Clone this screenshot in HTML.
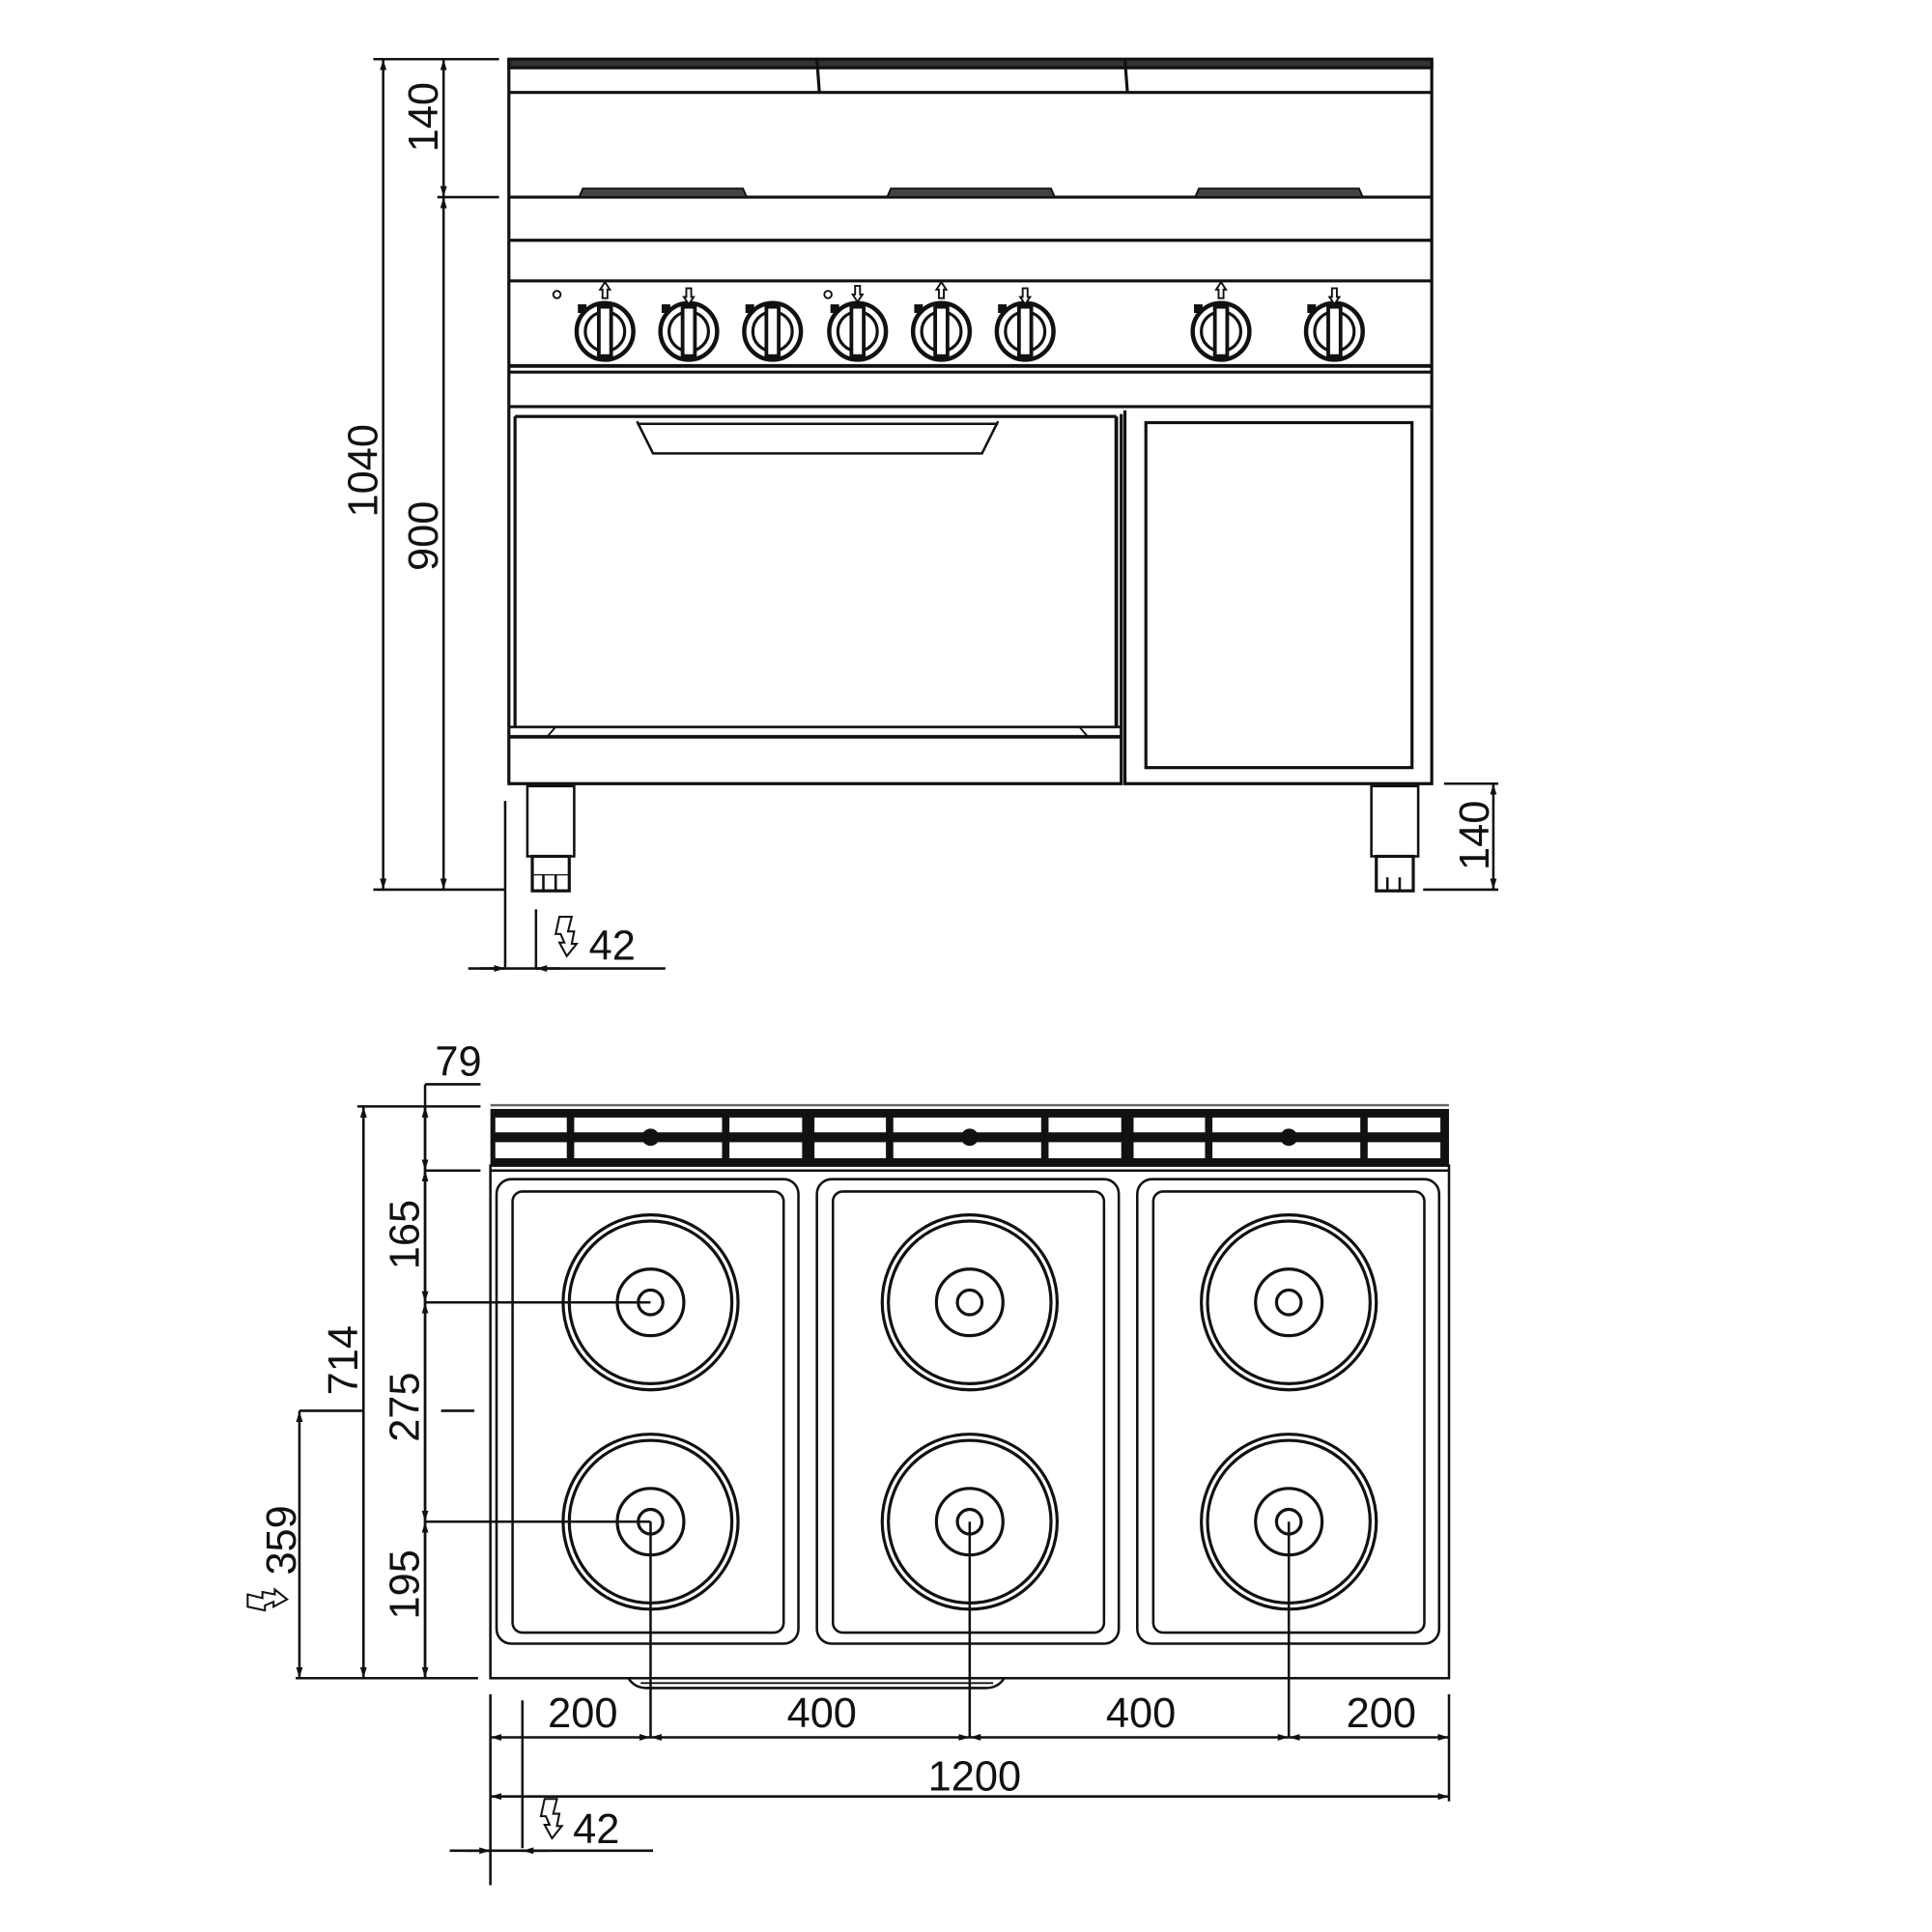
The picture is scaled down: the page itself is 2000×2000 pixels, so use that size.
<!DOCTYPE html>
<html><head><meta charset="utf-8"><style>
html,body{margin:0;padding:0;background:#fff;}
svg{display:block;}
text{font-family:"Liberation Sans",sans-serif;font-size:34px;fill:#111;}
</style></head><body>
<svg width="2000" height="2000" viewBox="0 0 1568 1568" xmlns="http://www.w3.org/2000/svg">
<defs>
<marker id="a" viewBox="0 0 10 10" refX="10" refY="5" markerWidth="9" markerHeight="9" orient="auto-start-reverse" markerUnits="userSpaceOnUse"><path d="M0,2 L10,5 L0,8 z" fill="#111"/></marker>
<g id="knob">
<circle cx="0" cy="0" r="23" fill="none" stroke="#111" stroke-width="3.5"/>
<circle cx="0" cy="0" r="16" fill="none" stroke="#111" stroke-width="2.5"/>
<rect x="-5" y="-20" width="10" height="40" fill="#fff" stroke="#111" stroke-width="3"/>
<rect x="-22" y="-22" width="7" height="7" fill="#111"/>
</g>
<g id="up"><path d="M0,-9 L-4,-3 L-2,-3 L-2,4 L2,4 L2,-3 L4,-3 Z" fill="#fff" stroke="#111" stroke-width="1.5"/></g>
<g id="dn"><path d="M0,9 L-4,3 L-2,3 L-2,-4 L2,-4 L2,3 L4,3 Z" fill="#fff" stroke="#111" stroke-width="1.5"/></g>
<g id="burner">
<circle r="71" fill="none" stroke="#111" stroke-width="2.5"/>
<circle r="66" fill="none" stroke="#111" stroke-width="2.5"/>
<circle r="27" fill="none" stroke="#111" stroke-width="2.5"/>
<circle r="10" fill="none" stroke="#111" stroke-width="2.5"/>
</g>
<g id="bolt"><path d="M-4,-14 L6,-14 L3,-2 L8,-2 L6,8 L10,8 L2,18 L-4,7 L0,7 L-3,0 L-7,0 Z" fill="#fff" stroke="#111" stroke-width="1.6"/></g>
</defs>

<g stroke="#111" fill="none" stroke-width="2.5">
<rect x="413" y="48" width="749" height="7" fill="#333"/>
<line x1="413" y1="75" x2="1162" y2="75"/>
<line x1="413" y1="48" x2="413" y2="330"/>
<line x1="1162" y1="48" x2="1162" y2="333"/>
<line x1="663" y1="48" x2="665" y2="75"/>
<line x1="913" y1="48" x2="915" y2="75"/>
<line x1="413" y1="160" x2="1162" y2="160"/>
<path d="M470,160 L473,153 L603,153 L606,160 Z M720,160 L723,153 L853,153 L856,160 Z M970,160 L973,153 L1103,153 L1106,160 Z" fill="#444" stroke-width="1.5"/>
<line x1="413" y1="195" x2="1162" y2="195"/>
<line x1="413" y1="228" x2="1162" y2="228"/>
<line x1="413" y1="297" x2="1162" y2="297" stroke-width="3"/>
<line x1="413" y1="302" x2="1162" y2="302"/>
<line x1="413" y1="330" x2="1162" y2="330"/>
<circle cx="452" cy="239" r="3" stroke-width="1.5"/>
<circle cx="672" cy="239" r="3" stroke-width="1.5"/>
</g>
<g>
<use href="#knob" x="491" y="269"/><use href="#up" x="491" y="238"/>
<use href="#knob" x="559" y="269"/><use href="#dn" x="559" y="238"/>
<use href="#knob" x="627" y="269"/>
<use href="#knob" x="696" y="269"/><use href="#dn" x="696" y="236"/>
<use href="#knob" x="764" y="269"/><use href="#up" x="764" y="238"/>
<use href="#knob" x="832" y="269"/><use href="#dn" x="832" y="238"/>
<use href="#knob" x="991" y="269"/><use href="#up" x="991" y="238"/>
<use href="#knob" x="1083" y="269"/><use href="#dn" x="1083" y="238"/>
</g>
<g stroke="#111" fill="none" stroke-width="2.5">
<path d="M413,330 L413,636 L910,636 L910,336"/>
<line x1="418" y1="338" x2="418" y2="590"/>
<line x1="906" y1="338" x2="906" y2="590" stroke-width="3"/>
<line x1="418" y1="338" x2="906" y2="338"/>
<path d="M517,342 L530,368 L797,368 L810,342" stroke-width="2"/>
<line x1="517" y1="344" x2="810" y2="344" stroke-width="2"/>
<line x1="413" y1="590" x2="910" y2="590" stroke-width="2"/>
<line x1="413" y1="598" x2="910" y2="598" stroke-width="3"/>
<path d="M444,598 L451,590 M876,590 L883,598" stroke-width="1.5"/>
<path d="M913,333 L913,636 L1162,636 L1162,333"/>
<rect x="930" y="343" width="216" height="280" stroke-width="2.5"/>
<rect x="428" y="638" width="38" height="57" stroke-width="2"/>
<rect x="432" y="695" width="30" height="28" stroke-width="2.5"/>
<line x1="441" y1="710" x2="441" y2="723" stroke-width="2"/><line x1="451" y1="710" x2="451" y2="723" stroke-width="2"/>
<line x1="432" y1="710" x2="462" y2="710" stroke-width="1"/>
<rect x="1113" y="638" width="38" height="57" stroke-width="2"/>
<rect x="1117" y="695" width="30" height="28" stroke-width="2.5"/>
<line x1="1126" y1="712" x2="1126" y2="723" stroke-width="2"/><line x1="1136" y1="712" x2="1136" y2="723" stroke-width="2"/>

<g stroke-width="2">
<line x1="303" y1="48" x2="405" y2="48"/>
<line x1="355" y1="160" x2="405" y2="160"/>
<line x1="303" y1="722" x2="410" y2="722"/>
<line x1="311" y1="48" x2="311" y2="722" marker-start="url(#a)" marker-end="url(#a)"/>
<line x1="360" y1="48" x2="360" y2="160" marker-start="url(#a)" marker-end="url(#a)"/>
<line x1="360" y1="160" x2="360" y2="722" marker-start="url(#a)" marker-end="url(#a)"/>
<line x1="1172" y1="636" x2="1216" y2="636"/>
<line x1="1155" y1="722" x2="1216" y2="722"/>
<line x1="1212" y1="636" x2="1212" y2="722" marker-start="url(#a)" marker-end="url(#a)"/>
<line x1="410" y1="650" x2="410" y2="786"/>
<line x1="435" y1="738" x2="435" y2="786"/>
<line x1="380" y1="786" x2="540" y2="786"/>
<line x1="390" y1="786" x2="410" y2="786" marker-end="url(#a)"/>
<line x1="455" y1="786" x2="435" y2="786" marker-end="url(#a)"/>
</g>
</g>
<use href="#bolt" x="458" y="758"/>
<text x="478" y="779">42</text>
<text transform="translate(355,95) rotate(-90)" text-anchor="middle">140</text>
<text transform="translate(355,435) rotate(-90)" text-anchor="middle">900</text>
<text transform="translate(306,382) rotate(-90)" text-anchor="middle">1040</text>
<text transform="translate(1208,678) rotate(-90)" text-anchor="middle">140</text>

<g>
<rect x="398" y="900" width="778" height="46" fill="#111"/>
<line x1="398" y1="897" x2="1176" y2="897" stroke="#666" stroke-width="2"/>
<g fill="#fff">
<rect x="402" y="907" width="58" height="12"/><rect x="466" y="907" width="120" height="12"/><rect x="592" y="907" width="59" height="12"/>
<rect x="402" y="927" width="58" height="13"/><rect x="466" y="927" width="120" height="13"/><rect x="592" y="927" width="59" height="13"/>
<rect x="661" y="907" width="58" height="12"/><rect x="725" y="907" width="120" height="12"/><rect x="851" y="907" width="59" height="12"/>
<rect x="661" y="927" width="58" height="13"/><rect x="725" y="927" width="120" height="13"/><rect x="851" y="927" width="59" height="13"/>
<rect x="920" y="907" width="58" height="12"/><rect x="984" y="907" width="120" height="12"/><rect x="1110" y="907" width="59" height="12"/>
<rect x="920" y="927" width="58" height="13"/><rect x="984" y="927" width="120" height="13"/><rect x="1110" y="927" width="59" height="13"/>
</g>
<circle cx="528" cy="923" r="7" fill="#111"/><circle cx="787" cy="923" r="7" fill="#111"/><circle cx="1046" cy="923" r="7" fill="#111"/>
</g>
<g stroke="#111" fill="none" stroke-width="2">
<line x1="398" y1="950" x2="1176" y2="950"/>
<rect x="398" y="946" width="778" height="416"/>
<rect x="403" y="957" width="245" height="377" rx="12"/>
<rect x="416" y="967" width="220" height="358" rx="8"/>
<rect x="663" y="957" width="245" height="377" rx="12"/>
<rect x="676" y="967" width="220" height="358" rx="8"/>
<rect x="923" y="957" width="245" height="377" rx="12"/>
<rect x="936" y="967" width="220" height="358" rx="8"/>
<path d="M510,1362 Q515,1370 525,1370 L800,1370 Q810,1370 815,1362" />
<line x1="520" y1="1366" x2="806" y2="1366" stroke-width="1.5"/>
</g>
<use href="#burner" x="528" y="1057"/><use href="#burner" x="787" y="1057"/><use href="#burner" x="1046" y="1057"/>
<use href="#burner" x="528" y="1235"/><use href="#burner" x="787" y="1235"/><use href="#burner" x="1046" y="1235"/>

<g stroke="#111" fill="none" stroke-width="2">
<line x1="345" y1="880" x2="390" y2="880"/>
<line x1="345" y1="880" x2="345" y2="1362"/>
<line x1="290" y1="898" x2="390" y2="898"/>
<line x1="345" y1="950" x2="390" y2="950"/>
<line x1="240" y1="1362" x2="388" y2="1362"/>
<line x1="295" y1="898" x2="295" y2="1362" marker-start="url(#a)" marker-end="url(#a)"/>
<line x1="345" y1="898" x2="345" y2="950" marker-start="url(#a)" marker-end="url(#a)"/>
<line x1="345" y1="950" x2="345" y2="1057" marker-start="url(#a)" marker-end="url(#a)"/>
<line x1="345" y1="1057" x2="345" y2="1235" marker-start="url(#a)" marker-end="url(#a)"/>
<line x1="345" y1="1235" x2="345" y2="1362" marker-start="url(#a)" marker-end="url(#a)"/>
<line x1="345" y1="1057" x2="528" y2="1057"/>
<line x1="345" y1="1235" x2="528" y2="1235"/>
<line x1="243" y1="1145" x2="295" y2="1145"/>
<line x1="358" y1="1145" x2="385" y2="1145"/>
<line x1="243" y1="1145" x2="243" y2="1362" marker-start="url(#a)" marker-end="url(#a)"/>
<line x1="398" y1="1375" x2="398" y2="1530"/>
<line x1="424" y1="1380" x2="424" y2="1500"/>
<line x1="1176" y1="1375" x2="1176" y2="1462"/>
<line x1="528" y1="1235" x2="528" y2="1410"/>
<line x1="787" y1="1235" x2="787" y2="1410"/>
<line x1="1046" y1="1235" x2="1046" y2="1410"/>
<line x1="398" y1="1410" x2="528" y2="1410" marker-start="url(#a)" marker-end="url(#a)"/>
<line x1="528" y1="1410" x2="787" y2="1410" marker-start="url(#a)" marker-end="url(#a)"/>
<line x1="787" y1="1410" x2="1046" y2="1410" marker-start="url(#a)" marker-end="url(#a)"/>
<line x1="1046" y1="1410" x2="1176" y2="1410" marker-start="url(#a)" marker-end="url(#a)"/>
<line x1="398" y1="1458" x2="1176" y2="1458" marker-start="url(#a)" marker-end="url(#a)"/>
<line x1="365" y1="1502" x2="530" y2="1502"/>
<line x1="378" y1="1502" x2="398" y2="1502" marker-end="url(#a)"/>
<line x1="444" y1="1502" x2="424" y2="1502" marker-end="url(#a)"/>
</g>
<use href="#bolt" x="446" y="1474"/>
<use href="#bolt" transform="translate(215,1300) rotate(-90)"/>
<text x="372" y="873" text-anchor="middle">79</text>
<text transform="translate(340,1002) rotate(-90)" text-anchor="middle">165</text>
<text transform="translate(340,1142) rotate(-90)" text-anchor="middle">275</text>
<text transform="translate(340,1286) rotate(-90)" text-anchor="middle">195</text>
<text transform="translate(290,1104) rotate(-90)" text-anchor="middle">714</text>
<text transform="translate(240,1250) rotate(-90)" text-anchor="middle">359</text>
<text x="473" y="1402" text-anchor="middle">200</text>
<text x="667" y="1402" text-anchor="middle">400</text>
<text x="926" y="1402" text-anchor="middle">400</text>
<text x="1121" y="1402" text-anchor="middle">200</text>
<text x="791" y="1453" text-anchor="middle">1200</text>
<text x="465" y="1496">42</text>
</svg>
</body></html>
